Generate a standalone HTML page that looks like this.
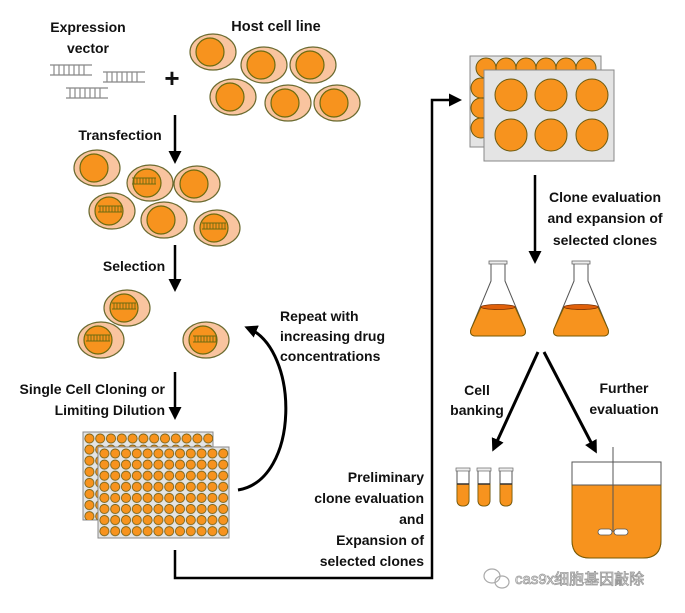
<!DOCTYPE html>
<html><head><meta charset="utf-8"><style>
html,body{margin:0;padding:0;background:#fff}
svg text{font-family:"Liberation Sans","Noto Sans CJK SC",sans-serif;font-weight:bold;font-size:14px;fill:#111}
</style></head><body>
<svg width="685" height="608" viewBox="0 0 685 608" xmlns="http://www.w3.org/2000/svg">
<defs>
<marker id="ah2" markerWidth="13" markerHeight="13" refX="9" refY="6.5" orient="auto" markerUnits="userSpaceOnUse"><path d="M0,0 L13,6.5 L0,13 z" fill="#000"/></marker>
<pattern id="w96" x="99" y="448" width="10.8" height="11.1" patternUnits="userSpaceOnUse"><circle cx="5.4" cy="5.5" r="4.6" fill="#f7931e" stroke="#6b5a10" stroke-width="0.8"/></pattern>
<pattern id="w96b" x="84" y="433" width="10.8" height="11.1" patternUnits="userSpaceOnUse"><circle cx="5.4" cy="5.5" r="4.6" fill="#f7931e" stroke="#6b5a10" stroke-width="0.8"/></pattern>
<g id="cell"><ellipse rx="23" ry="18" fill="#f9c49f" stroke="#6b6b30" stroke-width="1.2"/><circle cx="-3" cy="0" r="14" fill="#f7931e" stroke="#6b6b10" stroke-width="1.2"/></g>
<g id="dna" stroke="#888" stroke-width="1.2" fill="none"><path d="M0,0 H42 M0,10 H42 M4,0 V10 M9,0 V10 M14,0 V10 M19,0 V10 M24,0 V10 M29,0 V10 M34,0 V10"/></g>
<g id="sdna" stroke="#6b6b10" stroke-width="0.9" fill="none"><path d="M-12,-3 H12 M-12,3 H12 M-10,-3 V3 M-7,-3 V3 M-4,-3 V3 M-1,-3 V3 M2,-3 V3 M5,-3 V3 M8,-3 V3 M11,-3 V3"/></g>
<g id="flask"><path d="M-7,0 V18 L-27,66 Q-29,73 -22,73 H22 Q29,73 27,66 L7,18 V0" fill="#fff" stroke="#555" stroke-width="1"/><path d="M-17,44 H17 L27,66 Q29,73 22,73 H-22 Q-29,73 -27,66 Z" fill="#f7931e" stroke="#7a5a00" stroke-width="1"/><ellipse cx="0" cy="44" rx="17" ry="2.5" fill="#e0600a" stroke="#7a3000" stroke-width="0.8"/><rect x="-9" y="-2" width="18" height="3" fill="#eee" stroke="#666" stroke-width="0.8"/></g>
<g id="tube"><path d="M-6,0 V30 Q-6,36 0,36 Q6,36 6,30 V0" fill="#fff" stroke="#555" stroke-width="1"/><path d="M-6,14 V30 Q-6,36 0,36 Q6,36 6,30 V14 Z" fill="#f7931e" stroke="#7a5a00" stroke-width="0.8"/><line x1="-6" y1="14" x2="6" y2="14" stroke="#333" stroke-width="1.5"/><rect x="-7" y="-2" width="14" height="3" fill="#eee" stroke="#666" stroke-width="0.7"/></g>
</defs>

<text x="88" y="32" text-anchor="middle">Expression</text>
<text x="88" y="53" text-anchor="middle">vector</text>
<text x="276" y="31" text-anchor="middle" style="font-size:14.5px">Host cell line</text>
<use href="#dna" x="50" y="65"/><use href="#dna" x="103" y="72"/><use href="#dna" x="66" y="88"/>
<text x="172" y="87" text-anchor="middle" style="font-size:26px">+</text>

<use href="#cell" x="213" y="52"/><use href="#cell" x="264" y="65"/><use href="#cell" x="313" y="65"/>
<use href="#cell" x="233" y="97"/><use href="#cell" x="288" y="103"/><use href="#cell" x="337" y="103"/>

<line x1="175" y1="115" x2="175" y2="160" stroke="#000" stroke-width="2.5" marker-end="url(#ah2)"/>
<text x="120" y="140" text-anchor="middle">Transfection</text>

<use href="#cell" x="97" y="168"/><use href="#cell" x="150" y="183"/><use href="#cell" x="197" y="184"/>
<use href="#cell" x="112" y="211"/><use href="#cell" x="164" y="220"/><use href="#cell" x="217" y="228"/>
<use href="#sdna" x="144" y="181"/><use href="#sdna" x="110" y="209"/><use href="#sdna" x="214" y="226"/>

<line x1="175" y1="245" x2="175" y2="288" stroke="#000" stroke-width="2.5" marker-end="url(#ah2)"/>
<text x="134" y="271" text-anchor="middle">Selection</text>

<use href="#cell" x="127" y="308"/><use href="#cell" x="101" y="340"/><use href="#cell" x="206" y="340"/>
<use href="#sdna" x="124" y="306"/><use href="#sdna" x="98" y="338"/><use href="#sdna" x="205" y="339"/>

<text x="280" y="321">Repeat with</text>
<text x="280" y="341">increasing drug</text>
<text x="280" y="361">concentrations</text>
<path d="M238,490 C300,480 300,350 248,328" fill="none" stroke="#000" stroke-width="3" marker-end="url(#ah2)"/>

<line x1="175" y1="372" x2="175" y2="416" stroke="#000" stroke-width="2.5" marker-end="url(#ah2)"/>
<text x="165" y="394" text-anchor="end">Single Cell Cloning or</text>
<text x="165" y="415" text-anchor="end">Limiting Dilution</text>

<rect x="83" y="432" width="130" height="88" fill="#e4e4e4" stroke="#888"/>
<rect x="84" y="433" width="129" height="87" fill="url(#w96b)"/>
<rect x="98" y="447" width="131" height="91" fill="#e4e4e4" stroke="#888"/>
<rect x="99" y="448" width="130" height="89" fill="url(#w96)"/>

<path d="M175,550 V578 H432 V100 H458" fill="none" stroke="#000" stroke-width="2.5" marker-end="url(#ah2)"/>
<text x="424" y="482" text-anchor="end">Preliminary</text>
<text x="424" y="503" text-anchor="end">clone evaluation</text>
<text x="424" y="524" text-anchor="end">and</text>
<text x="424" y="545" text-anchor="end">Expansion of</text>
<text x="424" y="566" text-anchor="end">selected clones</text>

<rect x="470" y="56" width="131" height="91" fill="#e4e4e4" stroke="#888"/>
<g fill="#f7931e" stroke="#6b5a10" stroke-width="1">
<circle cx="486" cy="68" r="10"/><circle cx="506" cy="68" r="10"/><circle cx="526" cy="68" r="10"/><circle cx="546" cy="68" r="10"/><circle cx="566" cy="68" r="10"/><circle cx="586" cy="68" r="10"/>
<circle cx="481" cy="88" r="10"/><circle cx="481" cy="108" r="10"/><circle cx="481" cy="128" r="10"/>
</g>
<rect x="484" y="70" width="130" height="91" fill="#e4e4e4" stroke="#888"/>
<g fill="#f7931e" stroke="#6b5a10" stroke-width="1">
<circle cx="511" cy="95" r="16"/><circle cx="551" cy="95" r="16"/><circle cx="592" cy="95" r="16"/>
<circle cx="511" cy="135" r="16"/><circle cx="551" cy="135" r="16"/><circle cx="592" cy="135" r="16"/>
</g>

<line x1="535" y1="175" x2="535" y2="260" stroke="#000" stroke-width="2.5" marker-end="url(#ah2)"/>
<text x="605" y="202" text-anchor="middle">Clone evaluation</text>
<text x="605" y="223" text-anchor="middle">and expansion of</text>
<text x="605" y="245" text-anchor="middle">selected clones</text>

<use href="#flask" x="498" y="263"/><use href="#flask" x="581" y="263"/>

<line x1="538" y1="352" x2="494" y2="448" stroke="#000" stroke-width="3" marker-end="url(#ah2)"/>
<line x1="544" y1="352" x2="595" y2="450" stroke="#000" stroke-width="3" marker-end="url(#ah2)"/>
<text x="477" y="395" text-anchor="middle">Cell</text>
<text x="477" y="415" text-anchor="middle">banking</text>
<text x="624" y="393" text-anchor="middle">Further</text>
<text x="624" y="414" text-anchor="middle">evaluation</text>

<use href="#tube" x="463" y="470"/><use href="#tube" x="484" y="470"/><use href="#tube" x="506" y="470"/>

<path d="M572,462 V540 Q572,558 590,558 H643 Q661,558 661,540 V462 Z" fill="#fff" stroke="#555"/>
<path d="M572,485 V540 Q572,558 590,558 H643 Q661,558 661,540 V485 Z" fill="#f7931e" stroke="#7a5a00"/>
<line x1="572" y1="485" x2="661" y2="485" stroke="#555"/>
<line x1="613" y1="447" x2="613" y2="532" stroke="#555" stroke-width="1"/>
<rect x="598" y="529" width="14" height="6" rx="3" fill="#fff" stroke="#555" stroke-width="0.8"/>
<rect x="614" y="529" width="14" height="6" rx="3" fill="#fff" stroke="#555" stroke-width="0.8"/>

<g fill="none" stroke="#aaa" stroke-width="1.2"><ellipse cx="492" cy="576" rx="8" ry="7"/><ellipse cx="502" cy="582" rx="7" ry="6"/></g>
<text x="515" y="584" style="font-weight:normal;font-size:15px;fill:#fff;stroke:#999;stroke-width:0.8px">cas9x细胞基因敲除</text>
</svg>
</body></html>
